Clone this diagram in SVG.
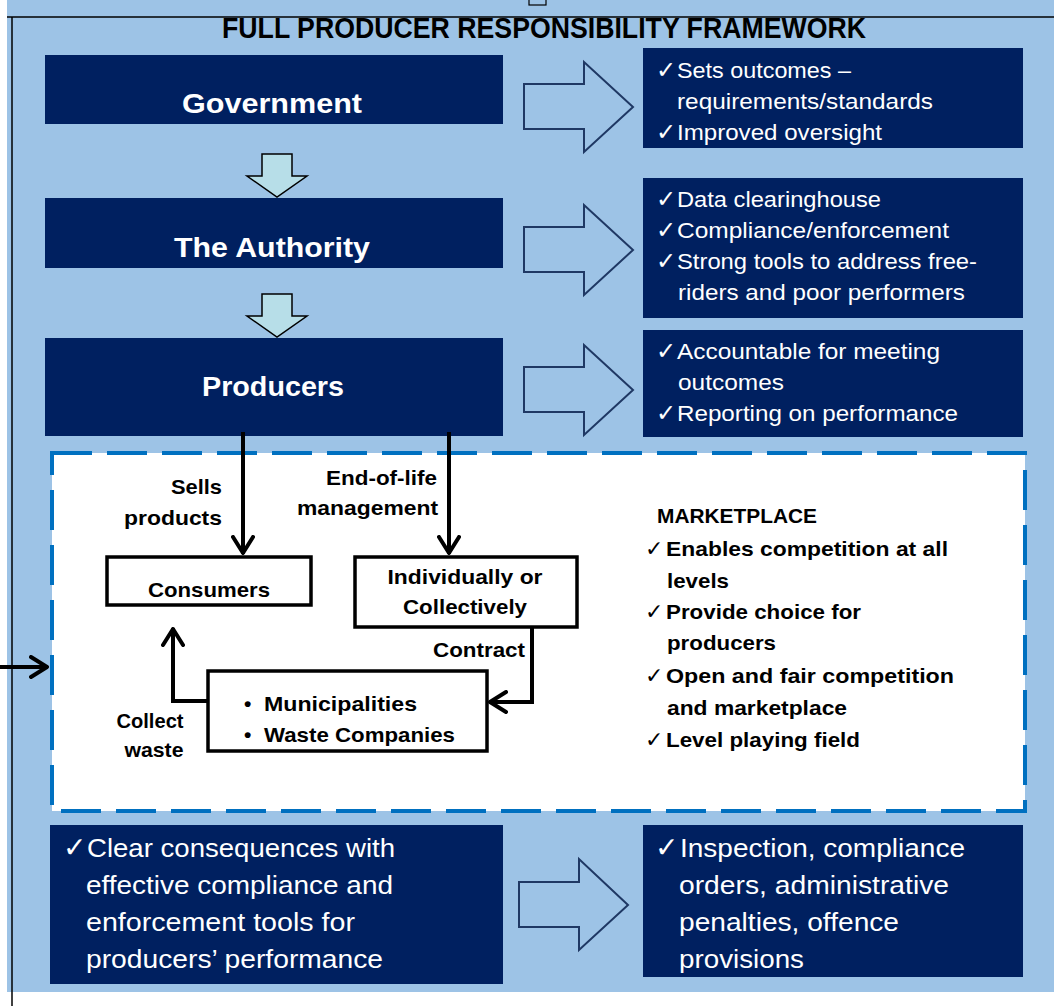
<svg xmlns="http://www.w3.org/2000/svg" width="1054" height="1006" viewBox="0 0 1054 1006">
<defs>
<style>
.bg{fill:#9DC3E6}
.navy{fill:#002060}
.wt{fill:#ffffff;font-family:"Liberation Sans",Arial,sans-serif;font-size:22px}
.wtb{fill:#ffffff;font-family:"Liberation Sans",Arial,sans-serif;font-size:27px;font-weight:bold;text-anchor:middle}
.wl{fill:#ffffff;font-family:"Liberation Sans",Arial,sans-serif;font-size:25px}
.bk{fill:#000000;font-family:"Liberation Sans",Arial,sans-serif;font-size:21px;font-weight:bold}
.chk{font-family:"DejaVu Sans",sans-serif;font-weight:normal}
.c1{font-size:24px}
.c2{font-size:28px}
.c3{font-size:22px}
.rarrow{fill:#9DC3E6;stroke:#1F3864;stroke-width:2}
.darrow{fill:#B7DEE8;stroke:#000000;stroke-width:1.5}
.conn{fill:none;stroke:#000000;stroke-width:4}
.box{fill:#ffffff;stroke:#000000;stroke-width:3.5}
</style>
<marker id="vhead" viewBox="0 0 20 24" refX="19" refY="12" markerWidth="20" markerHeight="24" markerUnits="userSpaceOnUse" orient="auto">
<path d="M2,2 L18,12 L2,22" fill="none" stroke="#000" stroke-width="4" stroke-linecap="round" stroke-linejoin="round"/>
</marker>
</defs>

<g id="frame">
<rect class="bg" x="7" y="0" width="1047" height="992"/>
<line x1="7" y1="17" x2="1054" y2="17" stroke="#000" stroke-width="1.5"/>
<line x1="12" y1="17" x2="12" y2="1006" stroke="#000" stroke-width="1.5"/>
<rect x="529" y="-3" width="17" height="8" fill="#9DC3E6" stroke="#000" stroke-width="1.2"/>
<text x="544" y="38" text-anchor="middle" textLength="644" lengthAdjust="spacingAndGlyphs" style="font-family:'Liberation Sans',Arial,sans-serif;font-size:29px;font-weight:bold;fill:#000">FULL PRODUCER RESPONSIBILITY FRAMEWORK</text>
</g>

<g id="government">
<rect class="navy" x="45" y="55" width="458" height="69"/>
<text class="wtb" x="272" y="113" textLength="180" lengthAdjust="spacingAndGlyphs">Government</text>
</g>
<g id="government-outcomes">
<rect class="navy" x="643" y="48" width="380" height="100"/>
<text class="wt chk c1" x="656" y="78">✓</text>
<text class="wt" x="677" y="78" textLength="174" lengthAdjust="spacingAndGlyphs">Sets outcomes –</text>
<text class="wt" x="677" y="109" textLength="256" lengthAdjust="spacingAndGlyphs">requirements/standards</text>
<text class="wt chk c1" x="656" y="140">✓</text>
<text class="wt" x="677" y="140" textLength="205" lengthAdjust="spacingAndGlyphs">Improved oversight</text>
</g>

<g id="authority">
<rect class="navy" x="45" y="198" width="458" height="70"/>
<text class="wtb" x="272" y="257" textLength="196" lengthAdjust="spacingAndGlyphs">The Authority</text>
</g>
<g id="authority-roles">
<rect class="navy" x="643" y="178" width="380" height="140"/>
<text class="wt chk c1" x="656" y="207">✓</text>
<text class="wt" x="677" y="207" textLength="204" lengthAdjust="spacingAndGlyphs">Data clearinghouse</text>
<text class="wt chk c1" x="656" y="238">✓</text>
<text class="wt" x="677" y="238" textLength="272" lengthAdjust="spacingAndGlyphs">Compliance/enforcement</text>
<text class="wt chk c1" x="656" y="269">✓</text>
<text class="wt" x="677" y="269" textLength="300" lengthAdjust="spacingAndGlyphs">Strong tools to address free-</text>
<text class="wt" x="678" y="300" textLength="287" lengthAdjust="spacingAndGlyphs">riders and poor performers</text>
</g>

<g id="producers">
<rect class="navy" x="45" y="338" width="458" height="98"/>
<text class="wtb" x="273" y="396" textLength="142" lengthAdjust="spacingAndGlyphs">Producers</text>
</g>
<g id="producers-roles">
<rect class="navy" x="643" y="330" width="380" height="107"/>
<text class="wt chk c1" x="656" y="359">✓</text>
<text class="wt" x="677" y="359" textLength="263" lengthAdjust="spacingAndGlyphs">Accountable for meeting</text>
<text class="wt" x="678" y="390" textLength="106" lengthAdjust="spacingAndGlyphs">outcomes</text>
<text class="wt chk c1" x="656" y="421">✓</text>
<text class="wt" x="677" y="421" textLength="281" lengthAdjust="spacingAndGlyphs">Reporting on performance</text>
</g>

<g id="marketplace-area">
<rect x="52" y="453" width="973" height="358" fill="#ffffff" stroke="#0070C0" stroke-width="4" stroke-dasharray="40 15"/>
</g>

<g id="consumers">
<rect class="box" x="107" y="557" width="204" height="48"/>
<text class="bk" x="209" y="597" text-anchor="middle" textLength="122" lengthAdjust="spacingAndGlyphs">Consumers</text>
</g>
<g id="individually">
<rect class="box" x="355" y="557" width="222" height="70"/>
<text class="bk" x="465" y="584" text-anchor="middle" textLength="155" lengthAdjust="spacingAndGlyphs">Individually or</text>
<text class="bk" x="465" y="614" text-anchor="middle" textLength="124" lengthAdjust="spacingAndGlyphs">Collectively</text>
</g>
<g id="municipalities">
<rect class="box" x="208" y="671" width="279" height="80"/>
<text class="bk" x="244" y="711">•</text>
<text class="bk" x="264" y="711" textLength="153" lengthAdjust="spacingAndGlyphs">Municipalities</text>
<text class="bk" x="244" y="742">•</text>
<text class="bk" x="264" y="742" textLength="191" lengthAdjust="spacingAndGlyphs">Waste Companies</text>
</g>

<g id="marketplace">
<text class="bk" x="657" y="523" textLength="160" lengthAdjust="spacingAndGlyphs">MARKETPLACE</text>
<text class="bk chk c3" x="645" y="556">✓</text>
<text class="bk" x="666" y="556" textLength="282" lengthAdjust="spacingAndGlyphs">Enables competition at all</text>
<text class="bk" x="667" y="588" textLength="62" lengthAdjust="spacingAndGlyphs">levels</text>
<text class="bk chk c3" x="645" y="619">✓</text>
<text class="bk" x="666" y="619" textLength="195" lengthAdjust="spacingAndGlyphs">Provide choice for</text>
<text class="bk" x="667" y="650" textLength="109" lengthAdjust="spacingAndGlyphs">producers</text>
<text class="bk chk c3" x="645" y="683">✓</text>
<text class="bk" x="666" y="683" textLength="288" lengthAdjust="spacingAndGlyphs">Open and fair competition</text>
<text class="bk" x="667" y="715" textLength="180" lengthAdjust="spacingAndGlyphs">and marketplace</text>
<text class="bk chk c3" x="645" y="747">✓</text>
<text class="bk" x="666" y="747" textLength="194" lengthAdjust="spacingAndGlyphs">Level playing field</text>
</g>

<g id="consequences">
<rect class="navy" x="50" y="825" width="453" height="159"/>
<text class="wl chk c2" x="63" y="857">✓</text>
<text class="wl" x="87" y="857" textLength="308" lengthAdjust="spacingAndGlyphs">Clear consequences with</text>
<text class="wl" x="86" y="894" textLength="307" lengthAdjust="spacingAndGlyphs">effective compliance and</text>
<text class="wl" x="86" y="931" textLength="269" lengthAdjust="spacingAndGlyphs">enforcement tools for</text>
<text class="wl" x="86" y="968" textLength="297" lengthAdjust="spacingAndGlyphs">producers’ performance</text>
</g>
<g id="enforcement-tools">
<rect class="navy" x="643" y="825" width="380" height="152"/>
<text class="wl chk c2" x="655" y="857">✓</text>
<text class="wl" x="680" y="857" textLength="285" lengthAdjust="spacingAndGlyphs">Inspection, compliance</text>
<text class="wl" x="679" y="894" textLength="270" lengthAdjust="spacingAndGlyphs">orders, administrative</text>
<text class="wl" x="679" y="931" textLength="220" lengthAdjust="spacingAndGlyphs">penalties, offence</text>
<text class="wl" x="679" y="968" textLength="125" lengthAdjust="spacingAndGlyphs">provisions</text>
</g>

<g id="connectors">
<polygon class="rarrow" points="524,84 584,84 584,62 633,107 584,152 584,129 524,129"/>
<polygon class="rarrow" points="524,227 584,227 584,205 633,250 584,295 584,272 524,272"/>
<polygon class="rarrow" points="524,367 584,367 584,345 633,390 584,435 584,412 524,412"/>
<polygon class="rarrow" points="519,882 579,882 579,859 628,905 579,950 579,927 519,927"/>
<polygon class="darrow" points="262,154 292,154 292,176 307,176 277,197 247,176 262,176"/>
<polygon class="darrow" points="262,294 292,294 292,316 307,316 277,337 247,316 262,316"/>
<line class="conn" x1="243" y1="432" x2="243" y2="554" marker-end="url(#vhead)"/>
<line class="conn" x1="449" y1="432" x2="449" y2="554" marker-end="url(#vhead)"/>
<polyline class="conn" points="532,627 532,702 489,702" marker-end="url(#vhead)"/>
<polyline class="conn" points="208,701 173,701 173,628" marker-end="url(#vhead)"/>
<line class="conn" x1="0" y1="667" x2="48" y2="667" marker-end="url(#vhead)"/>
<text class="bk" x="222" y="494" text-anchor="end" textLength="51" lengthAdjust="spacingAndGlyphs">Sells</text>
<text class="bk" x="222" y="525" text-anchor="end" textLength="98" lengthAdjust="spacingAndGlyphs">products</text>
<text class="bk" x="437" y="485" text-anchor="end" textLength="111" lengthAdjust="spacingAndGlyphs">End-of-life</text>
<text class="bk" x="438" y="515" text-anchor="end" textLength="141" lengthAdjust="spacingAndGlyphs">management</text>
<text class="bk" x="433" y="657" textLength="92" lengthAdjust="spacingAndGlyphs">Contract</text>
<text class="bk" x="150" y="728" text-anchor="middle" textLength="67" lengthAdjust="spacingAndGlyphs">Collect</text>
<text class="bk" x="154" y="757" text-anchor="middle" textLength="59" lengthAdjust="spacingAndGlyphs">waste</text>
</g>
</svg>
